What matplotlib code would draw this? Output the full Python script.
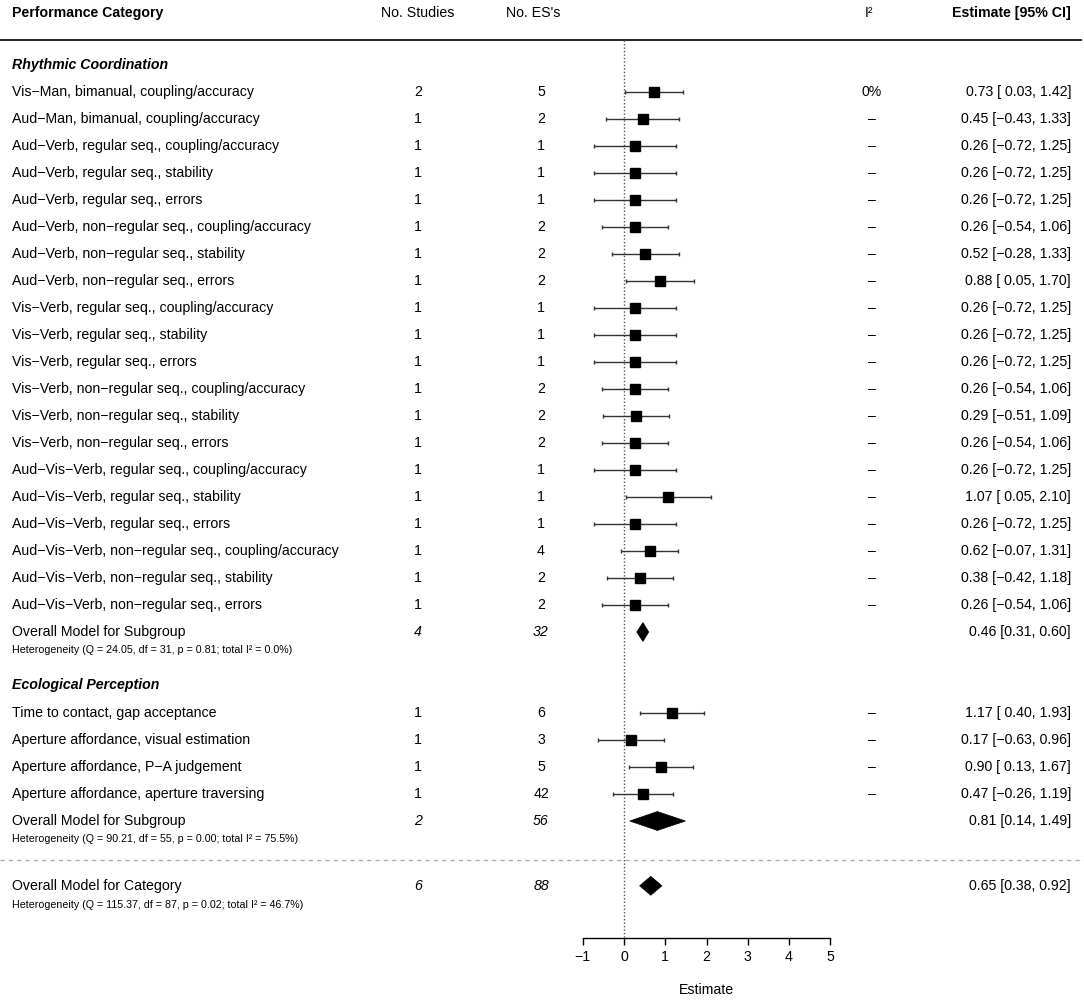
import matplotlib
matplotlib.use("Agg")
import matplotlib.pyplot as plt
from matplotlib.patches import Polygon

plt.rcParams['font.family'] = ['Liberation Sans', 'DejaVu Sans']

# ---------------- data ----------------
rc_labels = [
    "Vis\u2212Man, bimanual, coupling/accuracy",
    "Aud\u2212Man, bimanual, coupling/accuracy",
    "Aud\u2212Verb, regular seq., coupling/accuracy",
    "Aud\u2212Verb, regular seq., stability",
    "Aud\u2212Verb, regular seq., errors",
    "Aud\u2212Verb, non\u2212regular seq., coupling/accuracy",
    "Aud\u2212Verb, non\u2212regular seq., stability",
    "Aud\u2212Verb, non\u2212regular seq., errors",
    "Vis\u2212Verb, regular seq., coupling/accuracy",
    "Vis\u2212Verb, regular seq., stability",
    "Vis\u2212Verb, regular seq., errors",
    "Vis\u2212Verb, non\u2212regular seq., coupling/accuracy",
    "Vis\u2212Verb, non\u2212regular seq., stability",
    "Vis\u2212Verb, non\u2212regular seq., errors",
    "Aud\u2212Vis\u2212Verb, regular seq., coupling/accuracy",
    "Aud\u2212Vis\u2212Verb, regular seq., stability",
    "Aud\u2212Vis\u2212Verb, regular seq., errors",
    "Aud\u2212Vis\u2212Verb, non\u2212regular seq., coupling/accuracy",
    "Aud\u2212Vis\u2212Verb, non\u2212regular seq., stability",
    "Aud\u2212Vis\u2212Verb, non\u2212regular seq., errors",
]
rc_studies = [2, 1, 1, 1, 1, 1, 1, 1, 1, 1, 1, 1, 1, 1, 1, 1, 1, 1, 1, 1]
rc_es = [5, 2, 1, 1, 1, 2, 2, 2, 1, 1, 1, 2, 2, 2, 1, 1, 1, 4, 2, 2]
rc_i2 = ["0%"] + ["\u2013"] * 19
rc_est = [0.73, 0.45, 0.26, 0.26, 0.26, 0.26, 0.52, 0.88, 0.26, 0.26,
          0.26, 0.26, 0.29, 0.26, 0.26, 1.07, 0.26, 0.62, 0.38, 0.26]
rc_lo = [0.03, -0.43, -0.72, -0.72, -0.72, -0.54, -0.28, 0.05, -0.72, -0.72,
         -0.72, -0.54, -0.51, -0.54, -0.72, 0.05, -0.72, -0.07, -0.42, -0.54]
rc_hi = [1.42, 1.33, 1.25, 1.25, 1.25, 1.06, 1.33, 1.70, 1.25, 1.25,
         1.25, 1.06, 1.09, 1.06, 1.25, 2.10, 1.25, 1.31, 1.18, 1.06]
rc_overall = dict(studies=4, es=32, est=0.46, lo=0.31, hi=0.60,
                  Q=24.05, df=31, p=0.81, I2=0.0)

ep_labels = [
    "Time to contact, gap acceptance",
    "Aperture affordance, visual estimation",
    "Aperture affordance, P\u2212A judgement",
    "Aperture affordance, aperture traversing",
]
ep_studies = [1, 1, 1, 1]
ep_es = [6, 3, 5, 42]
ep_i2 = ["\u2013"] * 4
ep_est = [1.17, 0.17, 0.90, 0.47]
ep_lo = [0.40, -0.63, 0.13, -0.26]
ep_hi = [1.93, 0.96, 1.67, 1.19]
ep_overall = dict(studies=2, es=56, est=0.81, lo=0.14, hi=1.49,
                  Q=90.21, df=55, p=0.00, I2=75.5)

cat_overall = dict(studies=6, es=88, est=0.65, lo=0.38, hi=0.92,
                   Q=115.37, df=87, p=0.02, I2=46.7)

xticks = [-1, 0, 1, 2, 3, 4, 5]

# ---------------- layout ----------------
W, H = 1084, 1000
ROW = 27.0
Y0 = 65.0

fig = plt.figure(figsize=(W / 100, H / 100), dpi=100)
ax = fig.add_axes([0, 0, 1, 1])
ax.set_xlim(0, W)
ylo, yhi = -Y0 / ROW, (H - Y0) / ROW
ax.set_ylim(yhi, ylo)
ax.axis('off')

x0px, x5px = 582.7, 830.3
fa = fig.add_axes([x0px / W, 0, (x5px - x0px) / W, 1])
fa.set_xlim(-1, 5)
fa.set_ylim(yhi, ylo)
fa.patch.set_visible(False)
for s in ['left', 'right', 'top']:
    fa.spines[s].set_visible(False)
fa.yaxis.set_visible(False)

FS = 10.2
SFS = 7.65
X_LAB = 12
X_STU = 418
X_ES = 541
X_I2 = 872
X_EST = 1071

def minus(s):
    return s.replace('-', '\u2212')

def fmt_est(e, l, h, pad=True):
    if pad and l >= 0:
        return minus("%.2f [ %.2f, %.2f]" % (e, l, h))
    return minus("%.2f [%.2f, %.2f]" % (e, l, h))

# header
hr = -1.93
ax.text(X_LAB, hr, "Performance Category", fontsize=FS, fontweight='bold', va='center', ha='left')
ax.text(X_STU, hr, "No. Studies", fontsize=FS, va='center', ha='center')
ax.text(533, hr, "No. ES's", fontsize=FS, va='center', ha='center')
ax.text(869, hr, "I\u00b2", fontsize=FS, va='center', ha='center')
ax.text(X_EST, hr, "Estimate [95% CI]", fontsize=FS, fontweight='bold', va='center', ha='right')
ax.plot([0, 1082], [-0.93, -0.93], color='black', lw=1.2, solid_capstyle='butt')

# dotted zero line
fa.plot([0, 0], [-0.93, 32.33], color='#555555', lw=1.0, ls=(0, (1, 1.5)), clip_on=False)

def draw_rows(labels, studies, es, i2, est, lo, hi, start):
    for k in range(len(labels)):
        r = start + k
        ax.text(X_LAB, r, labels[k], fontsize=FS, va='center', ha='left')
        ax.text(X_STU, r, str(studies[k]), fontsize=FS, va='center', ha='center')
        ax.text(X_ES, r, str(es[k]), fontsize=FS, va='center', ha='center')
        ax.text(X_I2, r, i2[k], fontsize=FS, va='center', ha='center')
        ax.text(X_EST, r, fmt_est(est[k], lo[k], hi[k]), fontsize=FS, va='center', ha='right')
        fa.errorbar([est[k]], [r], xerr=[[est[k] - lo[k]], [hi[k] - est[k]]],
                    fmt='none', ecolor='#333333', elinewidth=1.0, capsize=1.3,
                    capthick=1.0, clip_on=False)
        fa.plot([est[k]], [r], marker='s', ms=7.3, color='black', mec='black',
                clip_on=False, zorder=3)

def draw_overall(label, o, r, hr_):
    ax.text(X_LAB, r, label, fontsize=FS, va='center', ha='left')
    ax.text(X_STU, r, str(o['studies']), fontsize=FS, style='italic', va='center', ha='center')
    ax.text(X_ES, r, str(o['es']), fontsize=FS, style='italic', va='center', ha='center')
    ax.text(X_EST, r, fmt_est(o['est'], o['lo'], o['hi'], pad=False), fontsize=FS, va='center', ha='right')
    hh = 0.35
    poly = Polygon([(o['lo'], r), (o['est'], r - hh), (o['hi'], r), (o['est'], r + hh)],
                   closed=True, facecolor='black', edgecolor='black', lw=0.5, clip_on=False)
    fa.add_patch(poly)
    ax.text(X_LAB, hr_, "Heterogeneity (Q = %.2f, df = %d, p = %.2f; total I\u00b2 = %.1f%%)"
            % (o['Q'], o['df'], o['p'], o['I2']), fontsize=SFS, va='center', ha='left')

# Rhythmic Coordination
ax.text(X_LAB, 0, "Rhythmic Coordination", fontsize=FS, fontweight='bold', style='italic', va='center', ha='left')
draw_rows(rc_labels, rc_studies, rc_es, rc_i2, rc_est, rc_lo, rc_hi, 1)
draw_overall("Overall Model for Subgroup", rc_overall, 21, 21.67)

# Ecological Perception
ax.text(X_LAB, 22.96, "Ecological Perception", fontsize=FS, fontweight='bold', style='italic', va='center', ha='left')
draw_rows(ep_labels, ep_studies, ep_es, ep_i2, ep_est, ep_lo, ep_hi, 24)
draw_overall("Overall Model for Subgroup", ep_overall, 28, 28.67)

# separator
ax.plot([0, W], [29.44, 29.44], color='#aaaaaa', lw=1.0, ls=(0, (3, 3)))

draw_overall("Overall Model for Category", cat_overall, 30.4, 31.1)

# x axis
fa.spines['bottom'].set_position(('data', 32.33))
fa.spines['bottom'].set_bounds(-1, 5)
fa.spines['bottom'].set_linewidth(1.0)
fa.set_xticks(xticks)
fa.set_xticklabels([minus(str(t)) for t in xticks], fontsize=FS)
fa.tick_params(axis='x', direction='out', length=5, width=1.0, pad=3.5)
fa.text(2, 34.26, "Estimate", fontsize=FS, ha='center', va='center')

fig.savefig("out.png", dpi=100)
